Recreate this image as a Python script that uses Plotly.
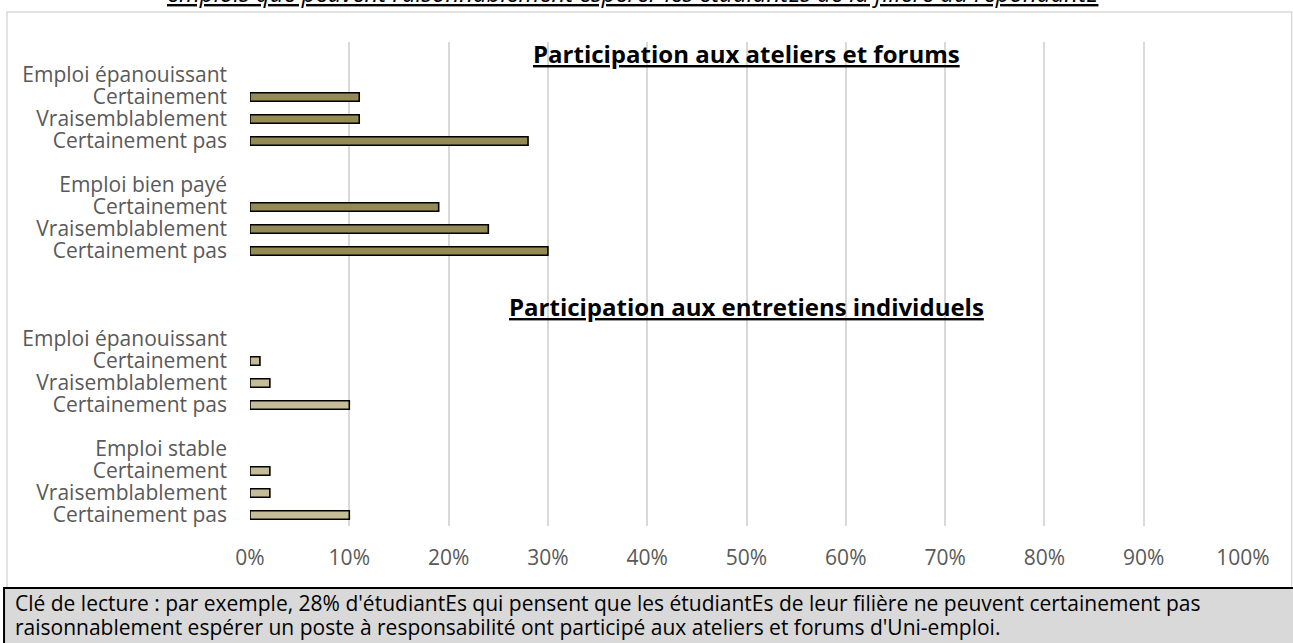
import plotly.graph_objects as go

# réponses et pourcentages (en %)
responses = ["Certainement", "Vraisemblablement", "Certainement pas"]

ateliers_groups = ["Emploi épanouissant", "Emploi bien payé"]
ateliers_values = [[11, 11, 28], [19, 24, 30]]

entretiens_groups = ["Emploi épanouissant", "Emploi stable"]
entretiens_values = [[1, 2, 10], [2, 2, 10]]

x_ticks = [0, 10, 20, 30, 40, 50, 60, 70, 80, 90, 100]

TITLE_TOP = "emplois que peuvent raisonnablement espérer les étudiantEs de la filière du répondantE"
HEADER_1 = "Participation aux ateliers et forums"
HEADER_2 = "Participation aux entretiens individuels"
NOTE_1 = ("Clé de lecture : par exemple, 28% d'étudiantEs qui pensent que les étudiantEs "
          "de leur filière ne peuvent certainement pas")
NOTE_2 = ("raisonnablement espérer un poste à responsabilité ont participé aux ateliers "
          "et forums d'Uni-emploi.")

FONT = "Open Sans"
COL_TOP = "#948A54"
COL_BOTTOM = "#C4BD97"


def build_rows(groups, values, gap_after):
    """Etiquettes + valeurs, une ligne vide entre les groupes"""
    labels, vals = [], []
    for i, (g, v) in enumerate(zip(groups, values)):
        labels.append(g)
        vals.append(None)
        labels.extend(responses)
        vals.extend(v)
        n_blank = 1 if i < len(groups) - 1 else gap_after
        labels.extend([""] * n_blank)
        vals.extend([None] * n_blank)
    return labels, vals


lab_a, val_a = build_rows(ateliers_groups, ateliers_values, 3)
lab_e, val_e = build_rows(entretiens_groups, entretiens_values, 0)
labels = lab_a + lab_e
pos = list(range(len(labels)))
header2_pos = len(lab_a) - 1.5

fig = go.Figure()
fig.add_trace(go.Bar(
    y=pos[:len(lab_a)], x=val_a, orientation="h", width=0.38,
    marker=dict(color=COL_TOP, line=dict(color="black", width=1.6)),
))
fig.add_trace(go.Bar(
    y=pos[len(lab_a):], x=val_e, orientation="h", width=0.38,
    marker=dict(color=COL_BOTTOM, line=dict(color="black", width=1.6)),
))

fig.update_layout(
    width=1293, height=643,
    margin=dict(l=250, r=50, t=42, b=117),
    plot_bgcolor="white", paper_bgcolor="white",
    showlegend=False,
    font=dict(family=FONT, size=21, color="#595959"),
)
fig.update_xaxes(
    range=[0, 100], tickvals=x_ticks, ticktext=[f"{t}%" for t in x_ticks],
    showgrid=True, gridcolor="#D9D9D9", gridwidth=1.5,
    zeroline=False, showline=False, ticks="", ticklabelstandoff=17,
)
fig.update_yaxes(
    range=[len(labels) - 0.5, -1.5], tickvals=pos, ticktext=labels,
    showgrid=False, zeroline=False, showline=False, ticks="", ticklabelstandoff=22,
)

# cadre du graphique + encadré de lecture
fig.add_shape(type="rect", xref="paper", yref="paper",
              x0=-0.2447, x1=1.049, y0=-0.128, y1=1.062,
              line=dict(color="#D9D9D9", width=1.5), layer="below")
fig.add_shape(type="rect", xref="paper", yref="paper",
              x0=-0.2477, x1=1.07, y0=-0.26, y1=-0.128,
              fillcolor="#D9D9D9", line=dict(color="black", width=2))

fig.add_annotation(x=50, y=-1, xref="x", yref="y",
                   text=f"<b><u>{HEADER_1}</u></b>", showarrow=False,
                   font=dict(size=24, color="black"))
fig.add_annotation(x=50, y=header2_pos, xref="x", yref="y",
                   text=f"<b><u>{HEADER_2}</u></b>", showarrow=False,
                   font=dict(size=24, color="black"))
fig.add_annotation(x=0.3857, y=1.064, xref="paper", yref="paper",
                   xanchor="center", yanchor="bottom",
                   text=f"<i><u>{TITLE_TOP}</u></i>", showarrow=False,
                   font=dict(size=24, color="black"))
fig.add_annotation(x=-0.2387, y=(526 - 603) / 484, xref="paper", yref="paper",
                   xanchor="left", yanchor="middle",
                   text=NOTE_1, showarrow=False,
                   font=dict(size=21, color="black"))
fig.add_annotation(x=-0.2387, y=(526 - 627) / 484, xref="paper", yref="paper",
                   xanchor="left", yanchor="middle",
                   text=NOTE_2, showarrow=False,
                   font=dict(size=21, color="black"))

fig.write_html("out.html", config={"displayModeBar": False},
               post_script="document.body.style.margin = '0';")
